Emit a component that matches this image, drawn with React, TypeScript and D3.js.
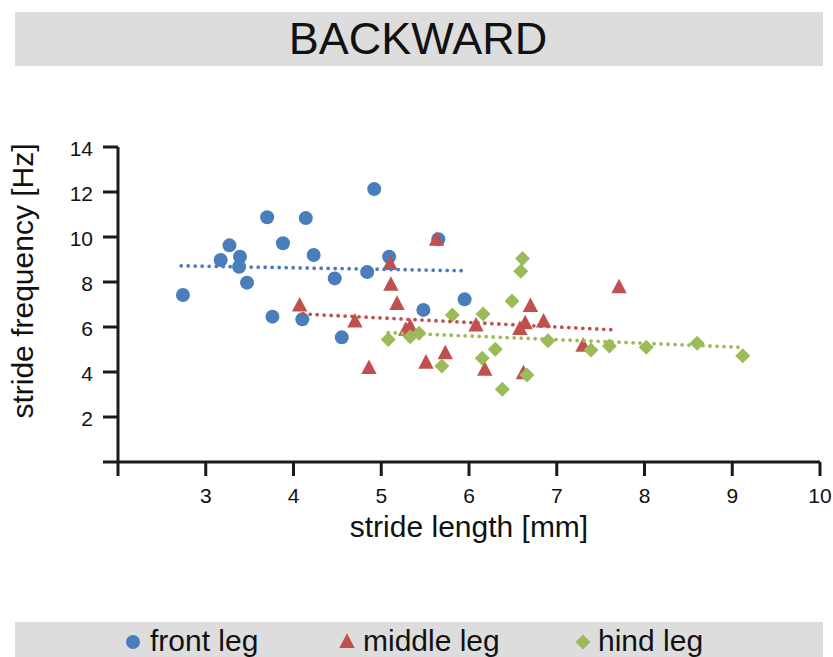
import React from "react";
import * as d3 from "d3";

const frontX = [2.74, 3.17, 3.27, 3.39, 3.38, 3.47, 3.70, 3.88, 3.76, 4.14, 4.10, 4.23, 4.47, 4.55, 4.84, 4.92, 5.09, 5.65, 5.48, 5.95];
const frontY = [7.42, 8.98, 9.63, 9.12, 8.68, 7.97, 10.88, 9.72, 6.46, 10.84, 6.34, 9.20, 8.16, 5.54, 8.44, 12.13, 9.12, 9.90, 6.76, 7.23];

const middleX = [4.07, 4.70, 4.86, 5.10, 5.11, 5.18, 5.28, 5.33, 5.51, 5.63, 5.73, 6.08, 6.18, 6.58, 6.64, 6.62, 6.70, 6.85, 7.30, 7.71];
const middleY = [6.95, 6.24, 4.17, 8.79, 7.87, 7.02, 5.87, 6.00, 4.41, 9.87, 4.83, 6.06, 4.09, 5.91, 6.16, 3.94, 6.93, 6.24, 5.16, 7.76];

const hindX = [5.08, 5.33, 5.43, 5.69, 5.81, 6.16, 6.15, 6.30, 6.38, 6.49, 6.59, 6.61, 6.66, 6.90, 7.39, 7.60, 8.02, 8.60, 9.12];
const hindY = [5.45, 5.57, 5.72, 4.27, 6.53, 6.58, 4.61, 5.01, 3.23, 7.16, 8.48, 9.04, 3.87, 5.39, 4.98, 5.16, 5.10, 5.28, 4.72];

// trend line endpoints [x0, y0, x1, y1]
const frontTrend = [2.72, 8.72, 5.94, 8.50];
const middleTrend = [4.11, 6.58, 7.66, 5.87];
const hindTrend = [5.08, 5.75, 9.09, 5.10];

const xTicks = [3, 4, 5, 6, 7, 8, 9, 10];
const yTicks = [2, 4, 6, 8, 10, 12, 14];

const BLUE = "#4a7ebb";
const RED = "#c0504d";
const GREEN = "#9bbb59";
const AXIS = "#1a1a1a";
const FONT = "'Liberation Sans', Arial, sans-serif";

const x = d3.scaleLinear().domain([2, 10]).range([118, 820]);
const y = d3.scaleLinear().domain([0, 14]).range([462, 147]);

const circlePath = (r: number) => d3.symbol().type(d3.symbolCircle).size(Math.PI * r * r)() as string;
const trianglePath = (s: number) => `M0,${-s * 0.62}L${s * 0.55},${s * 0.42}L${-s * 0.55},${s * 0.42}Z`;
const diamondPath = (s: number) => `M0,${-s}L${s},0L0,${s}L${-s},0Z`;

function Marker({ kind, cx, cy, color }: { kind: string; cx: number; cy: number; color: string }) {
  const d = kind === "circle" ? circlePath(7) : kind === "triangle" ? trianglePath(14) : diamondPath(7.5);
  return <path d={d} transform={`translate(${cx},${cy})`} fill={color} />;
}

function Trend({ t, color }: { t: number[]; color: string }) {
  const line = d3.line<[number, number]>().x((d) => x(d[0])).y((d) => y(d[1]));
  const pts: [number, number][] = [[t[0], t[1]], [t[2], t[3]]];
  return (
    <path d={line(pts) as string} stroke={color} strokeWidth={3.8} strokeDasharray="0 7" strokeLinecap="round" fill="none" />
  );
}

export default function App() {
  const series = [
    { xs: frontX, ys: frontY, kind: "circle", color: BLUE },
    { xs: middleX, ys: middleY, kind: "triangle", color: RED },
    { xs: hindX, ys: hindY, kind: "diamond", color: GREEN },
  ];
  return (
    <svg width={833} height={657} style={{ position: "absolute", left: 0, top: 0, background: "#fff" }} fontFamily={FONT}>
      <rect x={0} y={0} width={833} height={657} fill="#fff" />
      {/* title bar */}
      <rect x={15} y={12} width={808} height={54} fill="#dddddd" />
      <text x={418} y={54} textAnchor="middle" fontSize={45} fill="#111">BACKWARD</text>

      {/* axes */}
      <line x1={118} y1={y(14)} x2={118} y2={476} stroke={AXIS} strokeWidth={3} />
      <line x1={103} y1={y(0)} x2={x(10)} y2={y(0)} stroke={AXIS} strokeWidth={3} />
      {yTicks.map((t) => (
        <g key={"y" + t}>
          <line x1={103} x2={118} y1={y(t)} y2={y(t)} stroke={AXIS} strokeWidth={3} />
          <text x={93} y={y(t) + 2} dy="0.35em" textAnchor="end" fontSize={21} fill="#111">{t}</text>
        </g>
      ))}
      {xTicks.map((t) => (
        <g key={"x" + t}>
          <line x1={x(t)} x2={x(t)} y1={y(0)} y2={476} stroke={AXIS} strokeWidth={3} />
          <text x={x(t)} y={503} textAnchor="middle" fontSize={21} fill="#111">{t}</text>
        </g>
      ))}
      <text x={469} y={537} textAnchor="middle" fontSize={30} fill="#111">stride length [mm]</text>
      <text transform="translate(33,281) rotate(-90)" textAnchor="middle" fontSize={30} fill="#111">stride frequency [Hz]</text>

      {/* markers */}
      {series.map((s, si) => (
        <g key={"s" + si}>
          {s.xs.map((v, i) => (
            <Marker key={i} kind={s.kind} cx={x(v)} cy={y(s.ys[i])} color={s.color} />
          ))}
        </g>
      ))}

      {/* trend lines */}
      <Trend t={frontTrend} color={BLUE} />
      <Trend t={middleTrend} color={RED} />
      <Trend t={hindTrend} color={GREEN} />

      {/* legend */}
      <rect x={15} y={622} width={808} height={40} fill="#dddddd" />
      <Marker kind="circle" cx={133} cy={642} color={BLUE} />
      <text x={150} y={651} fontSize={30} fill="#111">front leg</text>
      <Marker kind="triangle" cx={347} cy={642} color={RED} />
      <text x={363} y={651} fontSize={30} fill="#111">middle leg</text>
      <Marker kind="diamond" cx={583} cy={642} color={GREEN} />
      <text x={598} y={651} fontSize={30} fill="#111">hind leg</text>
    </svg>
  );
}
